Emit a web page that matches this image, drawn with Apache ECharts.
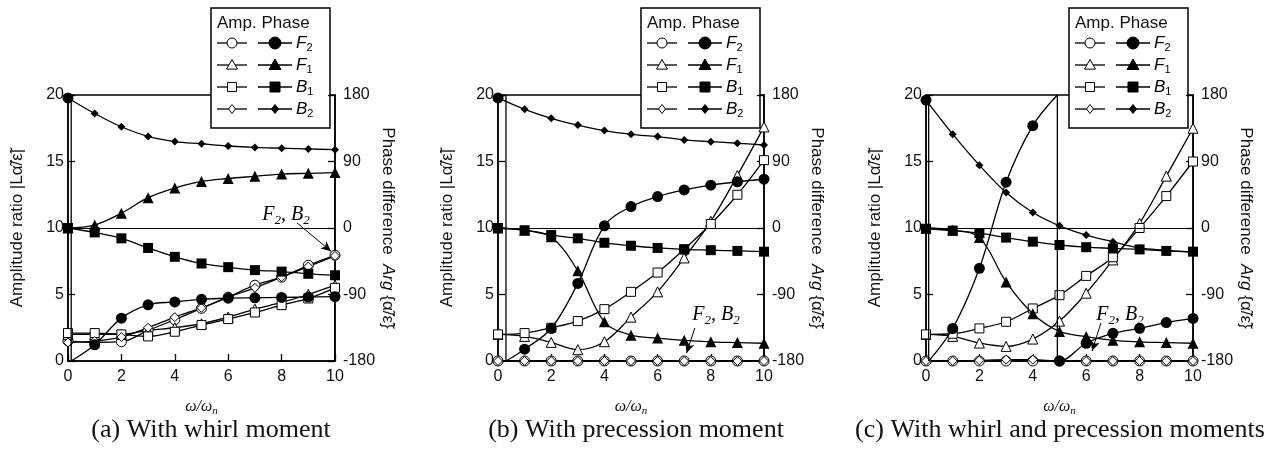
<!DOCTYPE html>
<html><head><meta charset="utf-8">
<script src="https://cdn.jsdelivr.net/npm/echarts@6/dist/echarts.min.js"></script>
<style>html,body{margin:0;padding:0;background:#fff}#c{width:1283px;height:451px}</style>
</head><body><div id="c"></div>
<script>
// ---------- data ----------
const omega = [0,1,2,3,4,5,6,7,8,9,10];
const omegaTicks = [0,2,4,6,8,10];
const ampTicks = [0,5,10,15,20];
const phaseTicks = [-180,-90,0,90,180];
const seriesNames = ['F2','F1','B1','B2'];

// (a) With whirl moment
const aAmpF2 = [1.5, 1.4, 1.45, 2.3, 3.1, 3.96, 4.8, 5.7, 6.3, 7.2, 7.95];
const aAmpF1 = [2.0, 2.0, 2.0, 2.3, 2.5, 2.8, 3.3, 3.9, 4.4, 5.0, 5.7];
const aAmpB1 = [2.1, 2.1, 2.0, 1.85, 2.2, 2.7, 3.15, 3.65, 4.2, 4.7, 5.5];
const aAmpB2 = [1.4, 1.5, 1.8, 2.5, 3.3, 4.0, 4.8, 5.5, 6.3, 7.1, 7.9];
const aPhF2 = [176, -158, -122, -104, -100, -96.5, -95, -94.5, -94, -93.5, -93];
const aPhF1 = [0, 4, 20, 41, 54, 63, 67, 70, 73, 74, 75];
const aPhB1 = [0, -6, -14, -27, -39, -48, -53, -57, -59, -62, -64];
const aPhB2 = [176, 155, 137, 124, 117, 114, 111, 109, 108, 107, 106];
const aF2Wraps = [0.12];
const aArrow = [[8.58, 10.38], [9.85, 8.25]];

// (b) With precession moment
const bAmpF2 = [0,0,0,0,0,0,0,0,0,0,0];
const bAmpF1 = [2.0, 1.85, 1.4, 0.85, 1.45, 3.3, 5.2, 7.75, 10.5, 13.95, 17.6];
const bAmpB1 = [2.0, 2.1, 2.5, 3.0, 3.9, 5.2, 6.65, 8.4, 10.3, 12.5, 15.1];
const bAmpB2 = [0,0,0,0,0,0,0,0,0,0,0];
const bPhF2 = [176, -164, -136, -75, 3, 29, 42.5, 51.5, 58, 62.6, 66];
const bPhF1 = [0, -3, -12, -58, -127, -145, -149, -152, -154, -155, -156];
const bPhB1 = [0, -3, -9.5, -14, -20, -24, -27, -29, -30, -31, -32];
const bPhB2 = [176, 160.6, 148.5, 139.3, 131.8, 126.8, 123.7, 119.2, 116.8, 114.7, 112.3];
const bF2Wraps = [0.3];
const bArrow = [[7.4, 2.48], [7.09, 0.6]];

// (c) With whirl and precession moments
const cAmpF2 = [0,0,0,0,0,0,0,0,0,0,0];
const cAmpF1 = [2.0, 1.85, 1.35, 1.1, 1.65, 3.0, 5.1, 7.6, 10.35, 13.9, 17.5];
const cAmpB1 = [2.0, 2.05, 2.45, 2.95, 3.95, 4.95, 6.4, 7.8, 10.0, 12.4, 15.0];
const cAmpB2 = [0, 0, 0.05, 0.1, 0.1, 0, 0, 0, 0, 0, 0];
const cPhF2 = [173, -136, -54.5, 62, 138.5, -180, -156, -142.6, -135.7, -128, -122.4];
const cPhF1 = [0, -3, -13, -73, -116, -140, -147, -152, -154, -155, -156];
const cPhB1 = [-1, -3.5, -7, -13, -18.5, -23, -26, -27.5, -29, -31, -32];
const cPhB2 = [173, 127, 85, 48, 21, 3, -9.5, -18.5, -27, -30, -33];
const cF2Wraps = [0.1, 4.92];
const cArrow = [[6.55, 2.86], [6.22, 0.75]];

const captions = ['(a) With whirl moment', '(b) With precession moment', '(c) With whirl and precession moments'];

// ---------- layout ----------
const panels = [
  {amp:[aAmpF2,aAmpF1,aAmpB1,aAmpB2], ph:[aPhF2,aPhF1,aPhB1,aPhB2], wraps:aF2Wraps, arrow:aArrow,
   grid:{left:68, width:267}, legendX:211, labelPos:[286,215], capX:211},
  {amp:[bAmpF2,bAmpF1,bAmpB1,bAmpB2], ph:[bPhF2,bPhF1,bPhB1,bPhB2], wraps:bF2Wraps, arrow:bArrow,
   grid:{left:498, width:266}, legendX:641, labelPos:[716,315], capX:636},
  {amp:[cAmpF2,cAmpF1,cAmpB1,cAmpB2], ph:[cPhF2,cPhF1,cPhB1,cPhB2], wraps:cF2Wraps, arrow:cArrow,
   grid:{left:926, width:267}, legendX:1069, labelPos:[1120,315], capX:1060}
];
const GTOP = 95, GH = 266;
const symAmp = ['circle','triangle','rect','diamond'];
const symSize = [10, 10, 9, 9];
const symSizeFilled = [11, 11, 10, 8];
const SANS = 'Liberation Sans', SERIF = 'Liberation Serif';
const INK = '#111';
const LW = 1.3;

function wrapped(xs, ys, wraps) {
  const segs = [], jumps = [];
  let cur = [];
  for (let i = 0; i < xs.length; i++) {
    cur.push({value:[xs[i], ys[i]]});
    if (i < xs.length - 1) {
      const w = wraps.find(v => v > xs[i] && v < xs[i+1]);
      if (w !== undefined) {
        cur.push({value:[w, phaseTicks[phaseTicks.length-1]], symbol:'none'});
        segs.push(cur);
        jumps.push([[w, phaseTicks[phaseTicks.length-1]], [w, phaseTicks[0]]]);
        cur = [{value:[w, phaseTicks[0]], symbol:'none'}];
      }
    }
  }
  segs.push(cur);
  return {segs, jumps};
}

const grids = [], xAxes = [], yAxes = [], series = [], graphics = [];
const subRich = {
  i: {fontFamily: SANS, fontStyle:'italic', fontSize:17, color:INK, lineHeight:20, verticalAlign:'middle'},
  s: {fontFamily: SANS, fontSize:11, color:INK, lineHeight:20, verticalAlign:'bottom', padding:[8,0,0,0]}
};
const serifRich = {
  i: {fontFamily: SERIF, fontStyle:'italic', fontSize:20, color:INK, lineHeight:24, verticalAlign:'middle'},
  s: {fontFamily: SERIF, fontStyle:'italic', fontSize:13, color:INK, lineHeight:24, verticalAlign:'bottom', padding:[9,0,0,0]}
};

panels.forEach((p, g) => {
  grids.push({left:p.grid.left, top:GTOP, width:p.grid.width, height:GH, show:true,
    borderColor:'#000', borderWidth:1.5, backgroundColor:'transparent'});
  xAxes.push({type:'value', gridIndex:g, min:omegaTicks[0], max:omegaTicks[omegaTicks.length-1],
    interval:omegaTicks[1]-omegaTicks[0],
    axisLine:{show:true, onZero:false, lineStyle:{color:'#000', width:1.5}},
    axisTick:{show:true, inside:true, length:7, lineStyle:{color:'#000', width:1.3}},
    axisLabel:{fontFamily:SANS, fontSize:16, color:INK, margin:8},
    splitLine:{show:false},
    name:'{i|ω/ω}{s|n}', nameLocation:'middle', nameGap:36,
    nameTextStyle:{rich:serifRichSmall()}});
  yAxes.push({type:'value', gridIndex:g, position:'left', min:ampTicks[0], max:ampTicks[ampTicks.length-1],
    interval:ampTicks[1]-ampTicks[0],
    axisLine:{show:true, onZero:false, lineStyle:{color:'#000', width:1.5}},
    axisTick:{show:true, inside:true, length:7, lineStyle:{color:'#000', width:1.3}},
    axisLabel:{fontFamily:SANS, fontSize:16, color:INK, margin:4},
    splitLine:{show:false},
    name:'Amplitude ratio |Lα̃/ε̃|', nameLocation:'middle', nameGap:42,
    nameTextStyle:{fontFamily:SANS, fontSize:17, color:INK}});
  yAxes.push({type:'value', gridIndex:g, position:'right', min:phaseTicks[0], max:phaseTicks[phaseTicks.length-1],
    interval:phaseTicks[1]-phaseTicks[0],
    axisLine:{show:true, onZero:false, lineStyle:{color:'#000', width:1.5}},
    axisTick:{show:true, inside:true, length:7, lineStyle:{color:'#000', width:1.3}},
    axisLabel:{fontFamily:SANS, fontSize:16, color:INK, margin:8},
    splitLine:{show:false},
    name:'Phase difference  {i|Arg} {α̃/ε̃}', nameLocation:'middle', nameGap:44, nameRotate:-90,
    nameTextStyle:{fontFamily:SANS, fontSize:17, color:INK,
      rich:{i:{fontFamily:SANS, fontSize:17, fontStyle:'italic', color:INK}}}});

  // amplitude (hollow markers)
  p.amp.forEach((arr, k) => {
    const s = {type:'line', name:'amp'+seriesNames[k], xAxisIndex:g, yAxisIndex:2*g,
      data: omega.map((x,i)=>[x, arr[i]]), smooth:0.35,
      symbol:symAmp[k], symbolSize:symSize[k], showAllSymbol:true,
      itemStyle:{color:'#fff', borderColor:'#000', borderWidth:1},
      lineStyle:{color:'#000', width:LW}, z:2, emphasis:{disabled:true}};
    if (k === 0) {
      s.markLine = {silent:true, symbol:['none','arrow'], symbolSize:[7,10], animation:false,
        lineStyle:{color:'#000', width:1, type:'solid'}, label:{show:false},
        data:[[{coord:p.arrow[0]}, {coord:p.arrow[1]}]]};
    }
    series.push(s);
  });
  // phase (filled markers)
  [2,1,3].forEach(k => {
    const arr = p.ph[k];
    const s = {type:'line', name:'ph'+seriesNames[k], xAxisIndex:g, yAxisIndex:2*g+1,
      data: omega.map((x,i)=>[x, arr[i]]), smooth:0.35,
      symbol:symAmp[k], symbolSize:symSizeFilled[k], showAllSymbol:true,
      itemStyle:{color:'#000'}, lineStyle:{color:'#000', width:LW}, z:3, emphasis:{disabled:true}};
    if (k === 2) {
      s.markLine = {silent:true, symbol:'none', animation:false,
        lineStyle:{color:'#000', width:1, type:'solid'}, label:{show:false},
        data:[{yAxis:0}]};
    }
    series.push(s);
  });
  const w = wrapped(omega, p.ph[0], p.wraps);
  w.segs.forEach(seg => series.push({type:'line', name:'phF2', xAxisIndex:g, yAxisIndex:2*g+1,
    data:seg, smooth:0.35, symbol:'circle', symbolSize:symSizeFilled[0], showAllSymbol:true,
    itemStyle:{color:'#000'}, lineStyle:{color:'#000', width:LW}, z:3, emphasis:{disabled:true}}));
  w.jumps.forEach(j => series.push({type:'line', name:'wrap', xAxisIndex:g, yAxisIndex:2*g+1,
    data:j, symbol:'none', lineStyle:{color:'#000', width:LW}, z:3, emphasis:{disabled:true}}));

  // annotation label
  graphics.push({type:'text', z:50, x:p.labelPos[0], y:p.labelPos[1],
    style:{text:'{i|F}{s|2}{i|, B}{s|2}', rich:serifRich, align:'center', verticalAlign:'middle'}});
  // caption
  graphics.push({type:'text', z:50, x:p.capX, y:430,
    style:{text:captions[g], font:'26px "Liberation Serif"', fill:INK, align:'center', verticalAlign:'middle'}});
  // legend box
  const L = p.legendX, T = 8;
  const lg = [];
  lg.push({type:'rect', shape:{x:L, y:T, width:119, height:120}, style:{fill:'#fff', stroke:'#000', lineWidth:1.5}});
  lg.push({type:'text', x:L+6, y:T+15, style:{text:'Amp. Phase', font:'17px "Liberation Sans"', fill:INK, verticalAlign:'middle'}});
  const rows = [35, 57, 79, 101];
  const labels = ['{i|F}{s|2}','{i|F}{s|1}','{i|B}{s|1}','{i|B}{s|2}'];
  rows.forEach((dy, k) => {
    const cy = T + dy;
    lg.push({type:'line', shape:{x1:L+6, y1:cy, x2:L+36, y2:cy}, style:{stroke:'#000', lineWidth:LW}});
    lg.push(markerShape(symAmp[k], L+21, cy, false));
    lg.push({type:'line', shape:{x1:L+47, y1:cy, x2:L+81, y2:cy}, style:{stroke:'#000', lineWidth:LW}});
    lg.push(markerShape(symAmp[k], L+64, cy, true));
    lg.push({type:'text', x:L+85, y:cy, style:{text:labels[k], rich:subRich, verticalAlign:'middle'}});
  });
  graphics.push({type:'group', z:100, children:lg});
});

function serifRichSmall() {
  return {
    i:{fontFamily:SERIF, fontStyle:'italic', fontSize:16, color:INK, lineHeight:20, verticalAlign:'middle'},
    s:{fontFamily:SERIF, fontStyle:'italic', fontSize:11, color:INK, lineHeight:20, verticalAlign:'bottom', padding:[7,0,0,0]}
  };
}

function markerShape(kind, cx, cy, filled) {
  const style = filled ? {fill:'#000', stroke:'#000', lineWidth:1} : {fill:'#fff', stroke:'#000', lineWidth:1};
  if (kind === 'circle') return {type:'circle', shape:{cx, cy, r: filled ? 6 : 5}, style};
  if (kind === 'rect') { const h = filled ? 5 : 4.5; return {type:'rect', shape:{x:cx-h, y:cy-h, width:2*h, height:2*h}, style}; }
  if (kind === 'triangle') { const h = filled ? 6 : 5.5; return {type:'polygon', shape:{points:[[cx,cy-h],[cx+h,cy+h*0.75],[cx-h,cy+h*0.75]]}, style}; }
  const h = filled ? 4.5 : 4.5;
  return {type:'polygon', shape:{points:[[cx,cy-h],[cx+3.5,cy],[cx,cy+h],[cx-3.5,cy]]}, style};
}

const chart = echarts.init(document.getElementById('c'), null, {renderer:'canvas'});
chart.setOption({
  animation:false,
  backgroundColor:'#fff',
  grid:grids, xAxis:xAxes, yAxis:yAxes, series:series, graphic:graphics
});
</script>
</body></html>
